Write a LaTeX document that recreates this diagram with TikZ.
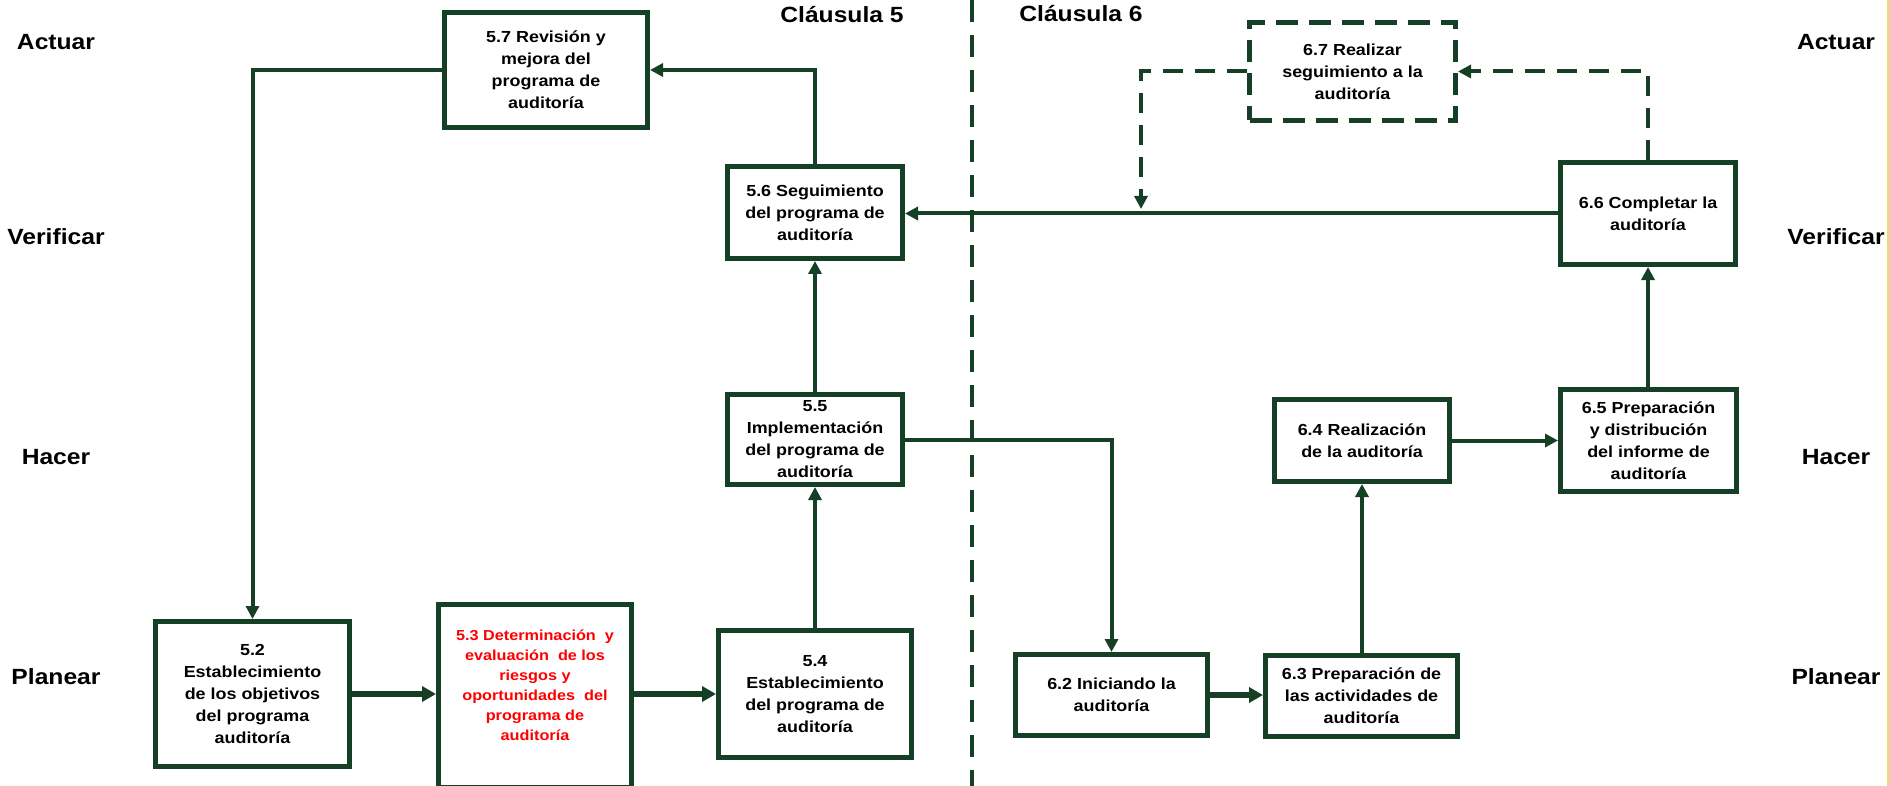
\documentclass[tikz,border=0pt]{standalone}
\usepackage{fontspec}
\setmainfont{Liberation Sans}[FakeStretch=1.12]
\usetikzlibrary{arrows.meta}
\definecolor{dg}{RGB}{22,64,38}
\definecolor{edgey}{RGB}{228,228,96}
\tikzset{
  box/.style={draw=dg, line width=5pt, fill=white, align=center, inner sep=2pt,
    font=\fontsize{16}{22}\selectfont\bfseries},
  dbox/.style={box, dash pattern=on 22pt off 11pt},
  lbl/.style={font=\fontsize{22}{26}\selectfont\bfseries, inner sep=0pt},
  conn/.style={draw=dg, line width=4pt, -{Triangle[length=13pt,width=13pt]}},
  connb/.style={draw=dg, line width=5.5pt, -{Triangle[length=14pt,width=15pt]}},
  dconn/.style={conn, dash pattern=on 20pt off 12pt},
  divider/.style={draw=dg, line width=4pt, dash pattern=on 22pt off 13pt}
}
\begin{document}
\begin{tikzpicture}[x=1pt,y=-1pt]
\useasboundingbox (0,0) rectangle (1889,786);
\fill[white] (0,0) rectangle (1889,786);
\draw[edgey, line width=2pt] (1888,0) -- (1888,786);
% divider
\draw[divider] (972,0) -- (972,786);
% side labels
\node[lbl] (la1) at (56,42) {Actuar};
\node[lbl] (lv1) at (56,237) {Verificar};
\node[lbl] (lh1) at (56,457) {Hacer};
\node[lbl] (lp1) at (56,677) {Planear};
\node[lbl] (la2) at (1836,42) {Actuar};
\node[lbl] (lv2) at (1836,237) {Verificar};
\node[lbl] (lh2) at (1836,457) {Hacer};
\node[lbl] (lp2) at (1836,677) {Planear};
\node[lbl] (c5) at (842,15) {Cláusula 5};
\node[lbl] (c6) at (1081,14) {Cláusula 6};
% boxes clause 5
\node[box, minimum width=203pt, minimum height=115pt] (n57) at (546,70) {5.7 Revisión y\\mejora del\\programa de\\auditoría};
\node[box, minimum width=175pt, minimum height=92pt] (n56) at (815,212.5) {5.6 Seguimiento\\del programa de\\auditoría};
\node[box, minimum width=175pt, minimum height=90pt] (n55) at (815,439.5) {5.5\\Implementación\\del programa de\\auditoría};
\node[box, minimum width=194pt, minimum height=145pt] (n52) at (252.5,694) {5.2\\Establecimiento\\de los objetivos\\del programa\\auditoría};
\node[box, minimum width=193pt, minimum height=183pt, text=red, font=\fontsize{14.5}{20}\selectfont\bfseries] (n53) at (535,696) {5.3 Determinación~ y\\evaluación~ de los\\riesgos y\\oportunidades~ del\\programa de\\auditoría\\[2pt]};
\node[box, minimum width=193pt, minimum height=127pt] (n54) at (815,694) {5.4\\Establecimiento\\del programa de\\auditoría};
% boxes clause 6
\node[box, minimum width=192pt, minimum height=81pt] (n62) at (1111.5,695) {6.2 Iniciando la\\auditoría};
\node[box, minimum width=192pt, minimum height=81pt] (n63) at (1361.5,696) {6.3 Preparación de\\las actividades de\\auditoría};
\node[box, minimum width=175pt, minimum height=82pt] (n64) at (1362,440.5) {6.4 Realización\\de la auditoría};
\node[box, minimum width=176pt, minimum height=102pt] (n65) at (1648.5,440.5) {6.5 Preparación\\y distribución\\del informe de\\auditoría};
\node[box, minimum width=175pt, minimum height=102pt] (n66) at (1648,213.5) {6.6 Completar la\\auditoría};
\node[dbox, minimum width=206pt, minimum height=98pt] (n67) at (1352.5,71.5) {6.7 Realizar\\seguimiento a la\\auditoría};
% connectors
\draw[conn] (n57.west) -| (n52.north);
\draw[conn] (n56.north) |- (n57.east);
\draw[conn] (n55.north) -- (n56.south);
\draw[conn] (n54.north) -- (n55.south);
\draw[connb] (n52.east) -- (n52.east -| n53.west);
\draw[connb] (n53.east |- n52.east) -- (n54.west);
\draw[conn] (n55.east) -| (n62.north);
\draw[connb] (n62.east) -- (n62.east -| n63.west);
\draw[conn] (n63.north -| n64.south) -- (n64.south);
\draw[conn] (n64.east) -- (n64.east -| n65.west);
\draw[conn] (n65.north -| n66.south) -- (n66.south);
\draw[conn] (n66.west) -- (n66.west -| n56.east);
\coordinate (jt) at (1141,209);
\draw[dconn] (n66.north) |- (n67.east);
\draw[dconn] (n67.west) -| (jt);
\end{tikzpicture}
\end{document}
